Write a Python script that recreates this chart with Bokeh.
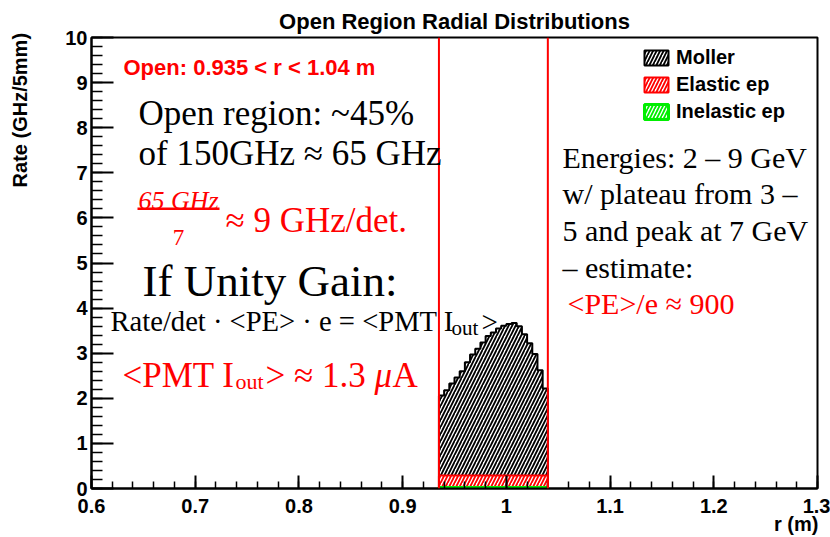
import numpy as np
from bokeh.plotting import figure
from bokeh.models import Label, Span, Legend, LegendItem, FixedTicker, BoxAnnotation
from bokeh.embed import file_html
from bokeh.resources import INLINE

# ---------------- data ----------------
r_bin_lo = [0.935, 0.940, 0.945, 0.950, 0.955, 0.960, 0.965, 0.970, 0.975, 0.980,
            0.985, 0.990, 0.995, 1.000, 1.005, 1.010, 1.015, 1.020, 1.025, 1.030, 1.035]
bin_width = 0.005
moller_rate = [1.77, 1.89, 2.04, 2.17, 2.31, 2.51, 2.68, 2.81, 2.95, 3.09,
               3.17, 3.26, 3.32, 3.36, 3.38, 3.31, 3.13, 2.93, 2.69, 2.33, 1.93]
elastic_rate = [0.27, 0.27, 0.27, 0.27, 0.27, 0.27, 0.27, 0.27, 0.27, 0.27,
                0.27, 0.27, 0.27, 0.27, 0.27, 0.27, 0.27, 0.27, 0.27, 0.27, 0.27]
inelastic_rate = [0.02, 0.02, 0.02, 0.02, 0.02, 0.02, 0.02, 0.02, 0.02, 0.02,
                  0.02, 0.02, 0.02, 0.02, 0.02, 0.02, 0.02, 0.02, 0.02, 0.02, 0.02]
open_region = [0.935, 1.04]
x_ticks = [0.6, 0.7, 0.8, 0.9, 1.0, 1.1, 1.2, 1.3]
x_tick_labels = ["0.6", "0.7", "0.8", "0.9", "1", "1.1", "1.2", "1.3"]
y_ticks = [0, 1, 2, 3, 4, 5, 6, 7, 8, 9, 10]
y_tick_labels = ["0", "1", "2", "3", "4", "5", "6", "7", "8", "9", "10"]
legend_labels = ["Moller", "Elastic ep", "Inelastic ep"]
x_title = "r (m)"
y_title = "Rate (GHz/5mm)"

# ---------------- figure ----------------
W, H = 830, 537
FL, FR, FT, FB = 91, 817, 37, 488
X0, X1, Y0, Y1 = 0.6, 1.3, 0.0, 10.0
SANS = "Liberation Sans"
SERIF = "Liberation Serif"
NBSP = "\u00a0"

p = figure(width=W, height=H, x_range=(X0, X1), y_range=(Y0, Y1),
           output_backend="svg", toolbar_location=None,
           min_border_left=FL, min_border_right=W - FR,
           min_border_top=FT, min_border_bottom=H - FB,
           title="Open Region Radial Distributions")
p.background_fill_color = "white"
p.border_fill_color = "white"
p.grid.visible = False
p.outline_line_color = "black"
p.outline_line_width = 2
p.outline_line_alpha = 1

p.title.align = "center"
p.title.text_font = SANS
p.title.text_font_style = "bold"
p.title.text_font_size = "22px"
p.title.text_color = "black"
p.title.offset = 0
p.title.standoff = 7

def px_x(px):
    return X0 + (px - FL) / (FR - FL) * (X1 - X0)

def px_y(py):
    return Y0 + (FB - py) / (FB - FT) * (Y1 - Y0)

# axes
minor_x = [round(v, 3) for v in np.arange(0.6, 1.3001, 0.02)]
minor_y = [round(v, 2) for v in np.arange(0.0, 10.001, 0.2)]
p.xaxis.ticker = FixedTicker(ticks=x_ticks, minor_ticks=minor_x)
p.yaxis.ticker = FixedTicker(ticks=y_ticks, minor_ticks=minor_y)
p.xaxis.major_label_overrides = {float(k): v for k, v in zip(x_ticks, x_tick_labels)}
p.yaxis.major_label_overrides = {k: v for k, v in zip(y_ticks, y_tick_labels)}
for ax in (p.xaxis[0], p.yaxis[0]):
    ax.axis_line_width = 2
    ax.major_tick_line_width = 2
    ax.minor_tick_line_width = 1.5
    ax.major_tick_out = 0
    ax.minor_tick_out = 0
    ax.major_label_text_font = SANS
    ax.major_label_text_font_style = "bold"
    ax.major_label_text_font_size = "20px"
    ax.major_label_text_color = "black"
    ax.axis_label_text_font = SANS
    ax.axis_label_text_font_style = "bold"
    ax.axis_label_text_font_size = "20px"
    ax.axis_label_text_color = "black"
p.xaxis.major_tick_in = 13
p.xaxis.minor_tick_in = 7
p.yaxis.major_tick_in = 22
p.yaxis.minor_tick_in = 11
p.xaxis.major_label_standoff = 10
p.yaxis.major_label_standoff = 4

# ROOT puts axis titles at the axis end; Bokeh centres them, so lead them with
# no-break spaces (0.278 em each) until the visible words sit at the axis end.
sp = 0.278 * 20  # px per no-break space at 20px
x_title_w = 44.4
x_pad = int(round((2 * (FR - (FL + FR) / 2) - x_title_w) / sp))
p.xaxis.axis_label = NBSP * x_pad + x_title
p.xaxis.axis_label_standoff = -3
y_title_w = 164.5
y_end = 28  # top end of the title, px
y_pad = int(round((2 * ((FT + FB) / 2 - y_end) - y_title_w) / sp))
p.yaxis.axis_label = NBSP * y_pad + y_title
p.yaxis.axis_label_standoff = 31

# ---------------- stacked histogram ----------------
lo = np.array(r_bin_lo)
hi = lo + bin_width
inel = np.array(inelastic_rate)
elas = inel + np.array(elastic_rate)
moll = elas + np.array(moller_rate)

def step_poly(top):
    xs = [lo[0]]
    ys = [0.0]
    for a, b, t in zip(lo, hi, top):
        xs += [a, b]
        ys += [t, t]
    xs.append(hi[-1])
    ys.append(0.0)
    return xs, ys

mx, my = step_poly(moll)
ex, ey = step_poly(elas)
ix, iy = step_poly(inel)

r_m = p.patch(mx, my, fill_color="white", line_color="black", line_width=2,
              hatch_pattern="/", hatch_color="black", hatch_scale=7, hatch_weight=1.8)
r_e = p.patch(ex, ey, fill_color="white", line_color="red", line_width=2,
              hatch_pattern="/", hatch_color="red", hatch_scale=7, hatch_weight=1.8)
r_i = p.patch(ix, iy, fill_color="white", line_color="#00ee00", line_width=3,
              hatch_pattern="/", hatch_color="#00ee00", hatch_scale=7, hatch_weight=1.8)

for v in open_region:
    p.add_layout(Span(location=v, dimension="height", line_color="red", line_width=2))

legend = Legend(items=[LegendItem(label=legend_labels[0], renderers=[r_m]),
                       LegendItem(label=legend_labels[1], renderers=[r_e]),
                       LegendItem(label=legend_labels[2], renderers=[r_i])],
                location=(641 - FL, FB - 123))
legend.label_text_font = SANS
legend.label_text_font_style = "bold"
legend.label_text_font_size = "20px"
legend.label_text_color = "black"
legend.glyph_width = 30
legend.glyph_height = 19
legend.label_height = 19
legend.spacing = 4
legend.padding = 0
legend.margin = 0
legend.label_standoff = 5
legend.border_line_alpha = 0
legend.background_fill_alpha = 0
p.add_layout(legend)

# ---------------- texts ----------------
def lab(px, py, text, size, color="black", font=SERIF, style="normal", align="left", angle=0):
    p.add_layout(Label(x=px_x(px), y=px_y(py), text=text, text_font=font,
                       text_font_size=f"{size}px", text_color=color, text_font_style=style,
                       text_align=align, text_baseline="alphabetic",
                       angle=angle, angle_units="deg"))

lab(123, 67, "Open: 0.935 < r < 1.04 m", 22, color="red", font=SANS, style="bold")
lab(138, 113, "Open region: ~45%", 35)
lab(138, 153, "of 150GHz \u2248 65 GHz", 35)
lab(138, 200, "65 GHz", 26, color="red", style="italic")
p.add_layout(BoxAnnotation(left=px_x(137), right=px_x(219), top=px_y(207), bottom=px_y(209.5),
                           fill_color="red", fill_alpha=1, line_alpha=0))
lab(178, 237, "7", 23, color="red", align="center")
lab(225, 220, "\u2248 9 GHz/det.", 35, color="red")
lab(142, 280, "If Unity Gain:", 45)
lab(110, 321, "Rate/det \u00b7 <PE> \u00b7 e = <PMT I", 28.6)
lab(451, 327, "out", 21)
lab(481, 321, ">", 29)
lab(122, 375, "<PMT I", 35, color="red")
lab(235, 381, "out", 22, color="red")
lab(265, 375, "> \u2248 1.3 ", 35, color="red")
lab(374, 375, "\u03bc", 35, color="red", style="italic")
lab(392, 375, "A", 35, color="red")

lab(562, 157, "Energies: 2 \u2013 9 GeV", 30)
lab(562, 193, "w/ plateau from 3 \u2013", 30)
lab(562, 230, "5 and peak at 7 GeV", 30)
lab(562, 267, "\u2013 estimate:", 30)
lab(567, 303, "<PE>/e \u2248 900", 30, color="red")

open("out.html", "w").write(file_html(p, INLINE))
